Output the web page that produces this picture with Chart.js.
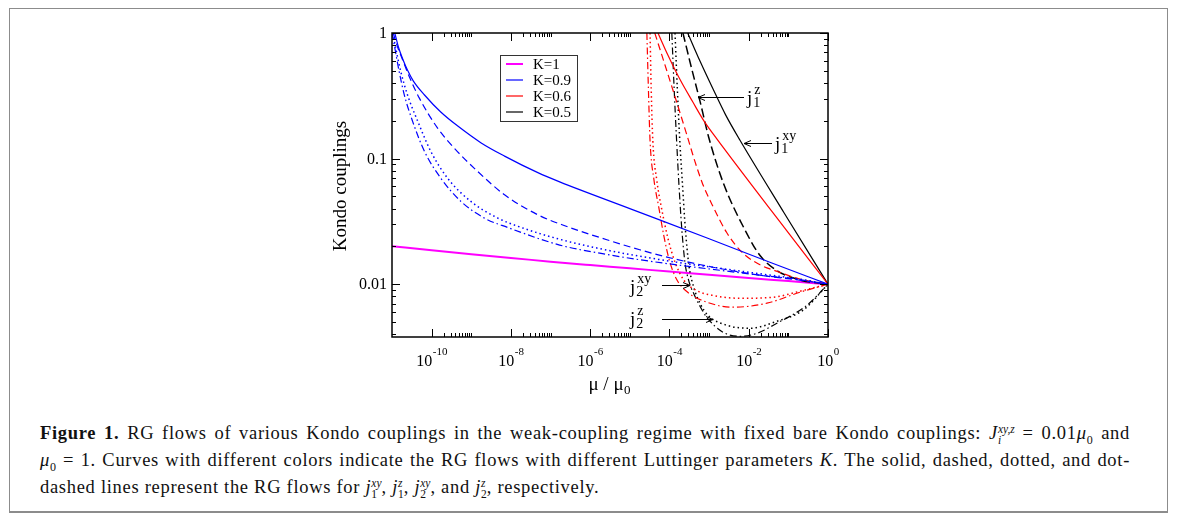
<!DOCTYPE html>
<html>
<head>
<meta charset="utf-8">
<script src="https://cdn.jsdelivr.net/npm/chart.js@4.4.1/dist/chart.umd.min.js"></script>
<style>
  body { margin: 0; background: #fff; width: 1179px; height: 526px; overflow: hidden; position: relative; }
  #frame { position: absolute; left: 9px; top: 8px; width: 1157px; height: 502px; border: 1px solid #8c8c8c; border-bottom-width: 2px; }
  #plot { position: absolute; left: 0; top: 0; }
  .cap { position: absolute; left: 40px; width: 1090px; font-family: 'Liberation Serif', 'Times New Roman', serif; font-size: 18.5px; letter-spacing: 0.7px; line-height: 20px; color: #111; white-space: nowrap; }
  .cap.just { text-align: justify; text-align-last: justify; white-space: normal; }
  .ss { display: inline-block; vertical-align: -0.45em; font-size: 0.62em; line-height: 0.95; text-align: left; letter-spacing: 0; }
  .ss > span { display: block; }
  sub { font-size: 0.65em; line-height: 0; }
</style>
</head>
<body>
<div id="frame"></div>
<canvas id="plot" width="1179" height="400"></canvas>
<div class="cap just" style="top:423px"><b>Figure 1.</b> RG flows of various Kondo couplings in the weak-coupling regime with fixed bare Kondo couplings: <i>J</i><span class="ss"><span><i>xy,z</i></span><span><i>i</i></span></span> = 0.01<i>μ</i><sub>0</sub> and</div>
<div class="cap just" style="top:450px"><i>μ</i><sub>0</sub> = 1. Curves with different colors indicate the RG flows with different Luttinger parameters <i>K</i>. The solid, dashed, dotted, and dot-</div>
<div class="cap" style="top:477px">dashed lines represent the RG flows for <i>j</i><span class="ss"><span><i>xy</i></span><span>1</span></span>, <i>j</i><span class="ss"><span><i>z</i></span><span>1</span></span>, <i>j</i><span class="ss"><span><i>xy</i></span><span>2</span></span>, and <i>j</i><span class="ss"><span><i>z</i></span><span>2</span></span>, respectively.</div>
<script>
// legend / tick text
const legendLabels = ['K=1', 'K=0.9', 'K=0.6', 'K=0.5'];
const xTickExps = [-10, -8, -6, -4, -2, 0];
const yTickValues = [0.01, 0.1, 1];
const yTickLabels = ['0.01', '0.1', '1'];

// curves: log10(mu/mu0) and coupling value
// K = 1 (all four couplings coincide)
const k1_lgmu = [-11, -10, -9, -8, -7, -6, -5, -4, -3, -2, -1, 0];
const k1_j    = [0.0201, 0.0186, 0.0173, 0.0162, 0.0151, 0.0142, 0.0134, 0.0126, 0.0119, 0.0112, 0.0106, 0.0100];

// K = 0.9
const k09_j1xy_lgmu = [-10.93, -10.83, -10.73, -10.61, -10.46, -10.18, -9.77, -9.34, -8.76, -8.16, -7.32, -6.77, -5.0, -3.0, -1.5, 0];
const k09_j1xy      = [1.0, 0.759, 0.621, 0.507, 0.414, 0.321, 0.235, 0.1815, 0.134, 0.1047, 0.0773, 0.0653, 0.040, 0.0230, 0.0151, 0.0100];
const k09_j1z_lgmu  = [-10.97, -10.86, -10.73, -10.56, -10.31, -9.85, -9.43, -8.84, -8.16, -7.32, -6.64, -5.58, -4.75, -3.91, -2.90, -1.72, -0.71, 0];
const k09_j1z       = [1.0, 0.773, 0.609, 0.446, 0.303, 0.175, 0.1213, 0.0791, 0.0515, 0.0357, 0.0292, 0.0226, 0.0188, 0.0160, 0.01365, 0.0118, 0.01076, 0.0100];
const k09_j2xy_lgmu = [-10.98, -10.94, -10.78, -10.61, -10.35, -10.02, -9.60, -9.01, -8.33, -7.74, -6.77, -5.76, -4.75, -3.74, -2.73, -1.72, -0.71, 0];
const k09_j2xy      = [1.0, 0.859, 0.495, 0.322, 0.198, 0.114, 0.070, 0.0456, 0.0336, 0.0283, 0.0228, 0.0192, 0.0167, 0.01483, 0.0134, 0.01211, 0.01096, 0.0100];
const k09_j2z_lgmu  = [-11.0, -10.96, -10.82, -10.69, -10.48, -10.18, -9.77, -9.26, -8.67, -8.08, -6.77, -5.76, -4.75, -3.74, -2.73, -1.72, -0.71, 0];
const k09_j2z       = [1.0, 0.859, 0.495, 0.322, 0.198, 0.114, 0.070, 0.0456, 0.0336, 0.0283, 0.0205, 0.01766, 0.01567, 0.01416, 0.01292, 0.0118, 0.01087, 0.0100];

// K = 0.6
const k06_j1xy_lgmu = [-4.29, -4.04, -3.74, -3.41, -3.11, -2.80, -1.41, 0];
const k06_j1xy      = [1.0, 0.668, 0.430, 0.282, 0.195, 0.143, 0.0378, 0.0100];
const k06_j1z_lgmu  = [-4.37, -3.96, -3.56, -3.36, -3.16, -2.93, -2.56, -2.18, -1.74, -1.30, -0.71, 0];
const k06_j1z       = [1.0, 0.392, 0.154, 0.0955, 0.0626, 0.0434, 0.0259, 0.0181, 0.0144, 0.0127, 0.0110, 0.0100];
const k06_j2xy_lgmu = [-4.49, -4.46, -4.42, -4.32, -4.19, -4.04, -3.86, -3.64, -3.33, -2.93, -2.22, -1.39, -0.71, 0];
const k06_j2xy      = [1.0, 0.351, 0.140, 0.0675, 0.0389, 0.0233, 0.0150, 0.0108, 0.00895, 0.00817, 0.00773, 0.00787, 0.00879, 0.0100];
const k06_j2z_lgmu  = [-4.57, -4.53, -4.49, -4.39, -4.27, -4.14, -3.99, -3.81, -3.54, -3.06, -2.40, -1.54, -0.71, 0];
const k06_j2z       = [1.0, 0.351, 0.140, 0.0675, 0.0411, 0.0241, 0.0150, 0.0108, 0.00863, 0.0072, 0.00656, 0.00706, 0.00863, 0.0100];

// K = 0.5
const k05_j1xy_lgmu = [-3.54, -3.23, -2.90, -2.58, -2.22, -1.11, 0];
const k05_j1xy      = [1.0, 0.598, 0.358, 0.222, 0.140, 0.0371, 0.0100];
const k05_j1z_lgmu  = [-3.66, -3.45, -3.23, -3.01, -2.64, -2.05, -1.72, -1.30, -0.71, 0];
const k05_j1z       = [1.0, 0.536, 0.287, 0.148, 0.0638, 0.0254, 0.0170, 0.0129, 0.0108, 0.0100];
const k05_j2xy_lgmu = [-3.86, -3.80, -3.74, -3.67, -3.60, -3.51, -3.38, -3.23, -3.03, -2.55, -1.97, -1.29, -0.63, 0];
const k05_j2xy      = [1.0, 0.351, 0.140, 0.0615, 0.0279, 0.0142, 0.00929, 0.00706, 0.00566, 0.00471, 0.00446, 0.00507, 0.00621, 0.0100];
const k05_j2z_lgmu  = [-3.94, -3.88, -3.82, -3.76, -3.69, -3.61, -3.51, -3.38, -3.23, -3.06, -2.65, -2.22, -1.79, -1.29, -0.53, 0];
const k05_j2z       = [1.0, 0.351, 0.140, 0.0615, 0.0279, 0.0150, 0.01057, 0.00832, 0.00668, 0.00546, 0.00415, 0.00385, 0.00407, 0.00489, 0.00681, 0.0100];

const kColors = ['#ff00ff', '#0000ff', '#ff0000', '#000000'];
const SOLID = [], DASH = [7, 4], DOT = [1.5, 3], DASHDOT = [7, 3, 1.5, 3];

function pts(lg, j) {
  return lg.map((e, i) => ({ x: Math.pow(10, e), y: j[i] }));
}
function curve(lg, j, color, dash, width) {
  return {
    data: pts(lg, j), borderColor: color, borderDash: dash, borderWidth: width || 1.2,
    showLine: true, pointRadius: 0, fill: false, cubicInterpolationMode: 'monotone', clip: 0
  };
}

const datasets = [
  curve(k09_j1xy_lgmu, k09_j1xy, kColors[1], SOLID),
  curve(k09_j1z_lgmu, k09_j1z, kColors[1], DASH),
  curve(k09_j2xy_lgmu, k09_j2xy, kColors[1], DOT, 1.5),
  curve(k09_j2z_lgmu, k09_j2z, kColors[1], DASHDOT),
  curve(k06_j1xy_lgmu, k06_j1xy, kColors[2], SOLID),
  curve(k06_j1z_lgmu, k06_j1z, kColors[2], DASH),
  curve(k06_j2xy_lgmu, k06_j2xy, kColors[2], DOT, 1.5),
  curve(k06_j2z_lgmu, k06_j2z, kColors[2], DASHDOT),
  curve(k05_j1xy_lgmu, k05_j1xy, kColors[3], SOLID),
  curve(k05_j1z_lgmu, k05_j1z, kColors[3], [9, 4], 1.5),
  curve(k05_j2xy_lgmu, k05_j2xy, kColors[3], DOT, 1.5),
  curve(k05_j2z_lgmu, k05_j2z, kColors[3], DASHDOT),
  curve(k1_lgmu, k1_j, kColors[0], SOLID, 2)
];

const SERIF = "'Liberation Serif', 'Times New Roman', serif";

function seg(ctx, x1, y1, x2, y2) {
  ctx.beginPath(); ctx.moveTo(x1, y1); ctx.lineTo(x2, y2); ctx.stroke();
}
function arrow(ctx, x1, y, x2) {
  ctx.lineWidth = 1; ctx.strokeStyle = '#000';
  seg(ctx, x1, y, x2, y);
  const d = x2 > x1 ? -1 : 1;
  ctx.beginPath();
  ctx.moveTo(x2 + d * 7, y - 3); ctx.lineTo(x2, y); ctx.lineTo(x2 + d * 7, y + 3);
  ctx.stroke();
}
function jLabel(ctx, x, base, sup, sub) {
  ctx.textAlign = 'left'; ctx.textBaseline = 'alphabetic'; ctx.fillStyle = '#000';
  ctx.font = '19px ' + SERIF;
  ctx.fillText('j', x, base);
  const w = ctx.measureText('j').width;
  ctx.font = '14px ' + SERIF;
  ctx.fillText(sup, x + w + 2, base - 10);
  ctx.fillText(sub, x + w + 1, base + 3);
}

const decor = {
  id: 'decor',
  afterDraw(chart) {
    const { ctx, chartArea: a, scales: { x, y } } = chart;
    ctx.save();
    ctx.strokeStyle = '#000';
    ctx.lineWidth = 1;
    // x ticks (inward, bottom and top)
    for (const e of xTickExps) {
      const p = Math.round(x.getPixelForValue(Math.pow(10, e))) + 0.5;
      seg(ctx, p, a.bottom, p, a.bottom - 8); seg(ctx, p, a.top, p, a.top + 8);
      for (let m = 2; m <= 10; m++) {
        const v = m * Math.pow(10, e);
        if (v > 1) break;
        const q = Math.round(x.getPixelForValue(v)) + 0.5;
        seg(ctx, q, a.bottom, q, a.bottom - 4); seg(ctx, q, a.top, q, a.top + 4);
      }
    }
    // y ticks
    for (let e = -3; e <= 0; e++) {
      for (let m = 1; m <= 9; m++) {
        const v = m * Math.pow(10, e);
        if (v < y.min || v > 1.0001) continue;
        const q = Math.round(y.getPixelForValue(v)) + 0.5;
        const len = m === 1 ? 8 : 4;
        seg(ctx, a.left, q, a.left + len, q); seg(ctx, a.right, q, a.right - len, q);
      }
    }
    // frame
    ctx.lineWidth = 1.5;
    ctx.strokeRect(a.left, a.top, a.right - a.left, a.bottom - a.top);

    // tick labels
    ctx.fillStyle = '#000';
    for (const e of xTickExps) {
      const p = x.getPixelForValue(Math.pow(10, e));
      ctx.font = '16px ' + SERIF;
      const w1 = ctx.measureText('10').width;
      ctx.font = '11px ' + SERIF;
      const w2 = ctx.measureText(String(e)).width;
      const s = p - (w1 + w2) / 2;
      ctx.textAlign = 'left'; ctx.textBaseline = 'alphabetic';
      ctx.font = '16px ' + SERIF; ctx.fillText('10', s, a.bottom + 29);
      ctx.font = '11px ' + SERIF; ctx.fillText(String(e), s + w1 + 0.5, a.bottom + 18);
    }
    ctx.font = '16px ' + SERIF;
    ctx.textAlign = 'right'; ctx.textBaseline = 'middle';
    yTickValues.forEach((v, i) => ctx.fillText(yTickLabels[i], a.left - 5, y.getPixelForValue(v) + 1));

    // axis titles
    ctx.save();
    ctx.translate(341, 186); ctx.rotate(-Math.PI / 2);
    ctx.font = '19px ' + SERIF; ctx.textAlign = 'center'; ctx.textBaseline = 'middle';
    ctx.fillText('Kondo couplings', 0, 0);
    ctx.restore();
    ctx.font = '19px ' + SERIF; ctx.textAlign = 'left'; ctx.textBaseline = 'alphabetic';
    const tt = 'μ / μ';
    const tw = ctx.measureText(tt).width;
    const tx = 610 - tw / 2 - 4;
    ctx.fillText(tt, tx, 390);
    ctx.font = '13px ' + SERIF; ctx.fillText('0', tx + tw + 0.5, 394);

    // legend
    ctx.lineWidth = 1; ctx.strokeStyle = '#333';
    ctx.strokeRect(500.5, 55.5, 77, 66);
    legendLabels.forEach((lab, i) => {
      const ry = 64 + i * 16;
      ctx.strokeStyle = kColors[i]; ctx.lineWidth = i === 0 ? 2 : 1.2;
      seg(ctx, 506, ry, 523, ry);
      ctx.fillStyle = '#000'; ctx.font = '15px ' + SERIF;
      ctx.textAlign = 'left'; ctx.textBaseline = 'middle';
      ctx.fillText(lab, 533, ry + 1);
    });

    // annotations
    arrow(ctx, 744, 97.5, 698);
    jLabel(ctx, 747, 104, 'z', '1');
    arrow(ctx, 772, 143.5, 744);
    jLabel(ctx, 775, 150, 'xy', '1');
    arrow(ctx, 662, 285.5, 690);
    jLabel(ctx, 630, 293, 'xy', '2');
    arrow(ctx, 662, 319.5, 713);
    jLabel(ctx, 630, 325, 'z', '2');
    ctx.restore();
  }
};

new Chart(document.getElementById('plot'), {
  type: 'scatter',
  data: { datasets },
  options: {
    responsive: false,
    animation: false,
    layout: { padding: { left: 392, right: 351, top: 33, bottom: 63 } },
    plugins: { legend: { display: false }, tooltip: { enabled: false } },
    scales: {
      x: { type: 'logarithmic', min: 1e-11, max: 1, display: false },
      y: { type: 'logarithmic', min: 0.0038, max: 1, display: false }
    }
  },
  plugins: [decor]
});
</script>
</body>
</html>
